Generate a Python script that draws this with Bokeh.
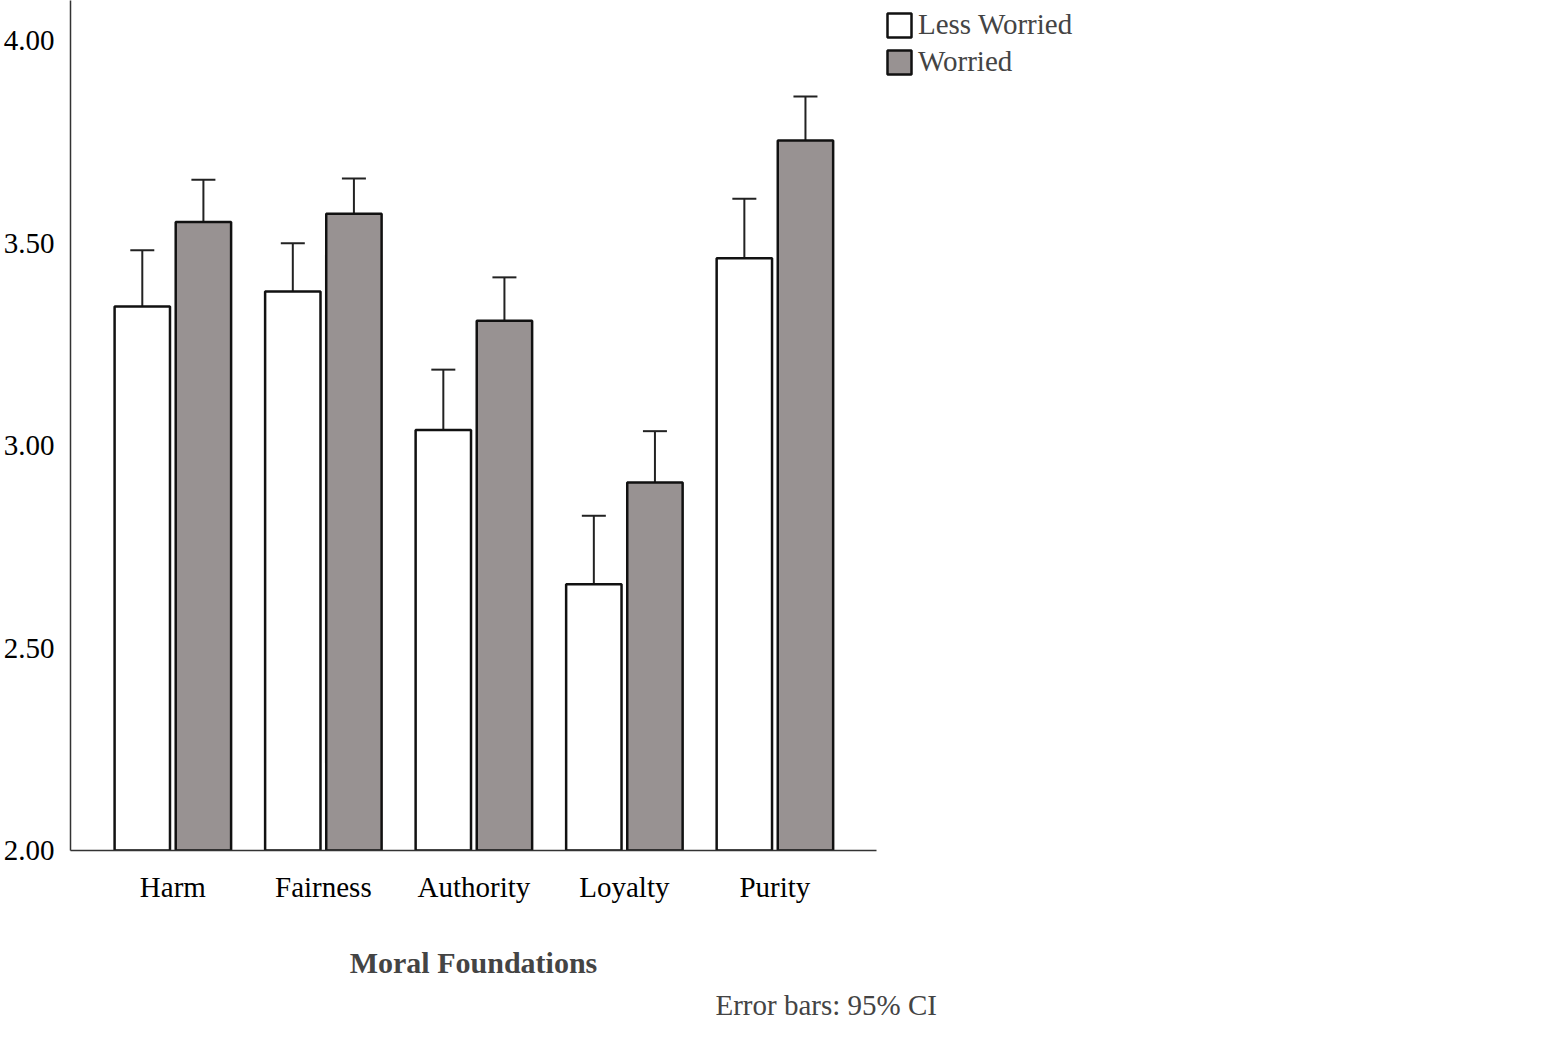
from bokeh.plotting import figure
from bokeh.models import Range1d, FixedTicker, NumeralTickFormatter, Whisker, ColumnDataSource, Legend, LegendItem, Title, TeeHead
from bokeh.embed import file_html
from bokeh.resources import INLINE

categories = ["Harm", "Fairness", "Authority", "Loyalty", "Purity"]
less_mean = [3.344, 3.381, 3.039, 2.658, 3.463]
less_lo = [3.205, 3.262, 2.889, 2.489, 3.317]
less_hi = [3.483, 3.500, 3.188, 2.827, 3.610]
wor_mean = [3.553, 3.573, 3.309, 2.909, 3.754]
wor_lo = [3.451, 3.486, 3.200, 2.785, 3.647]
wor_hi = [3.657, 3.660, 3.416, 3.036, 3.863]

FONT = "Liberation Serif"
xs = list(range(1, len(categories) + 1))
p = figure(width=1550, height=1025, output_backend="svg", toolbar_location=None,
           x_range=Range1d(0.32, 5.675), y_range=Range1d(2.0, 4.1),
           min_border_left=68, min_border_right=10, min_border_top=0, min_border_bottom=10)
p.outline_line_color = None
p.grid.grid_line_color = None

s1 = ColumnDataSource(dict(x=[x - 0.203 for x in xs], top=less_mean, lo=less_lo, hi=less_hi))
s2 = ColumnDataSource(dict(x=[x + 0.203 for x in xs], top=wor_mean, lo=wor_lo, hi=wor_hi))
r1 = p.vbar(x="x", top="top", bottom=2.0, width=0.368, source=s1, fill_color="white", line_color="#111111", line_width=2.5)
r2 = p.vbar(x="x", top="top", bottom=2.0, width=0.368, source=s2, fill_color="#989292", line_color="#111111", line_width=2.5)
for s in (s1, s2):
    w = Whisker(source=s, base="x", upper="hi", lower="lo", line_color="#222222", line_width=2,
                upper_head=TeeHead(size=24, line_width=2, line_color="#222222"),
                lower_head=TeeHead(size=24, line_width=2, line_color="#222222"))
    p.add_layout(w)

p.xaxis.ticker = FixedTicker(ticks=xs)
p.xaxis.major_label_overrides = {i: c for i, c in zip(xs, categories)}
p.xaxis.major_tick_line_color = None
p.xaxis.minor_tick_line_color = None
p.yaxis.ticker = FixedTicker(ticks=[2.0, 2.5, 3.0, 3.5, 4.0])
p.yaxis.formatter = NumeralTickFormatter(format="0.00")
p.yaxis.major_tick_line_color = None
p.yaxis.minor_tick_line_color = None
for ax in (p.xaxis[0], p.yaxis[0]):
    ax.axis_line_color = "#333333"
    ax.axis_line_width = 1.5
    ax.major_label_text_font = FONT
    ax.major_label_text_font_size = "29px"
    ax.major_label_text_color = "black"
p.xaxis.major_label_standoff = 14
p.yaxis.major_label_standoff = 10
p.xaxis.axis_label = "Moral Foundations"
p.xaxis.axis_label_text_font = FONT
p.xaxis.axis_label_text_font_style = "bold"
p.xaxis.axis_label_text_font_size = "30px"
p.xaxis.axis_label_standoff = 40

t = Title(text="Error bars: 95% CI", align="left", offset=645, text_font=FONT,
          text_font_size="29px", text_font_style="normal")
p.add_layout(t, "below")

leg = Legend(items=[LegendItem(label="Less Worried", renderers=[r1]), LegendItem(label="Worried", renderers=[r2])],
             location="top_left", glyph_width=30, glyph_height=30, label_text_font=FONT,
             label_text_font_size="29px", border_line_color=None, background_fill_alpha=0,
             spacing=4, padding=0, margin=8, label_standoff=4, label_height=30)
p.add_layout(leg, "right")

open("out.html", "w").write(file_html(p, INLINE))
